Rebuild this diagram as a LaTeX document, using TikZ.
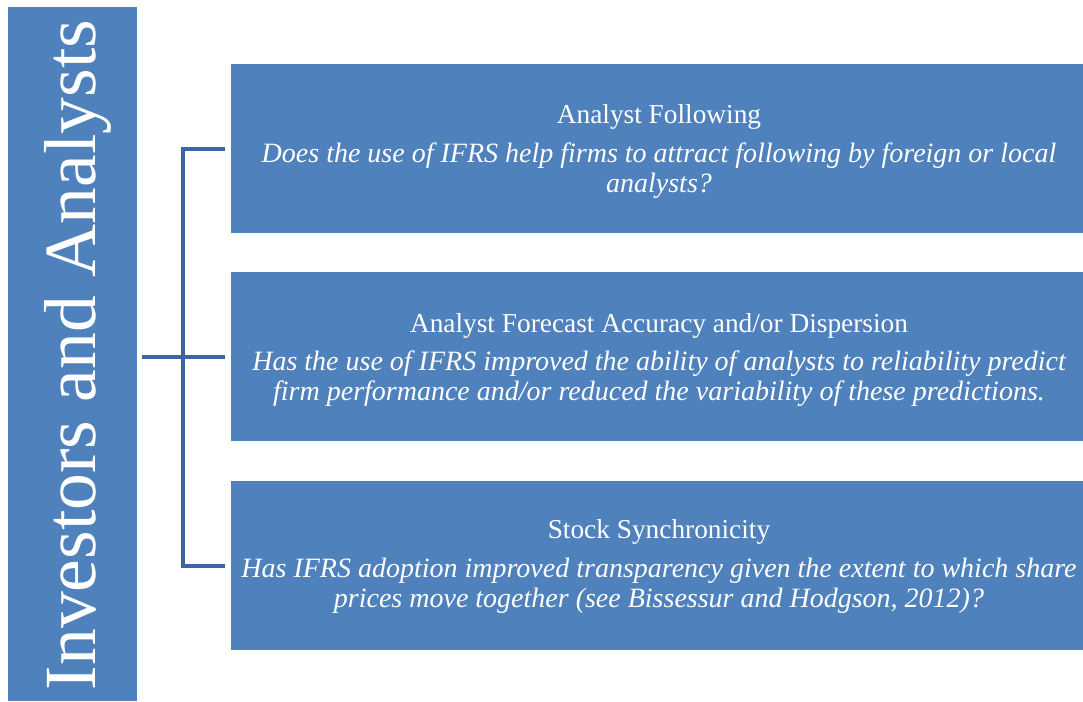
\documentclass[tikz,border=0pt]{standalone}
\usepackage{fontspec}
\setmainfont{Liberation Serif}
\definecolor{boxblue}{HTML}{4F81BD}
\definecolor{linkblue}{HTML}{3E65A0}
\begin{document}
\begin{tikzpicture}[x=0.75pt,y=-0.75pt,
  box/.style={fill=boxblue,draw=none,inner sep=0pt,outer sep=0pt},
  rbox/.style={box,minimum width=639pt,minimum height=126.75pt},
  conn/.style={draw=linkblue,line width=3pt},
  ttl/.style={text=white,anchor=base,inner sep=0pt,font=\fontsize{20.5}{24}\selectfont},
  qst/.style={text=white,anchor=base,inner sep=0pt,font=\fontsize{21}{24}\selectfont\itshape},
  side/.style={text=white,anchor=base,inner sep=0pt,rotate=90,font=\fontsize{55.2}{60}\selectfont}]
\useasboundingbox (0,0) rectangle (1083,701);
% left box
\node[box,minimum width=96.75pt,minimum height=520.5pt] (lb) at (72.5,354) {};
\node[side] (lbt) at (95,355) {Investors and Analysts};
% right boxes
\node[rbox] (b1) at (657,148.5) {};
\node[rbox] (b2) at (657,356.5) {};
\node[rbox] (b3) at (657,565.5) {};
\coordinate (jx) at (183,356.5);
% texts
\node[ttl] (t1) at (659,123) {Analyst Following};
\node[qst] (q1a) at (659,162) {Does the use of IFRS help firms to attract following by foreign or local};
\node[qst] (q1b) at (659,192) {analysts?};
\node[ttl] (t2) at (659,332) {Analyst Forecast Accuracy and/or Dispersion};
\node[qst] (q2a) at (659,370) {Has the use of IFRS improved the ability of analysts to reliability predict};
\node[qst] (q2b) at (659,400) {firm performance and/or reduced the variability of these predictions.};
\node[ttl] (t3) at (659,538) {Stock Synchronicity};
\node[qst] (q3a) at (659,577) {Has IFRS adoption improved transparency given the extent to which share};
\node[qst] (q3b) at (659,607) {prices move together (see Bissessur and Hodgson, 2012)?};
% connectors
\draw[conn] ([xshift=-4.5pt]b1.west) -| (jx) |- ([xshift=-4.5pt]b3.west);
\draw[conn] ([xshift=3.75pt]lb.east |- b2.west) -- ([xshift=-4.5pt]b2.west);
\end{tikzpicture}
\end{document}
